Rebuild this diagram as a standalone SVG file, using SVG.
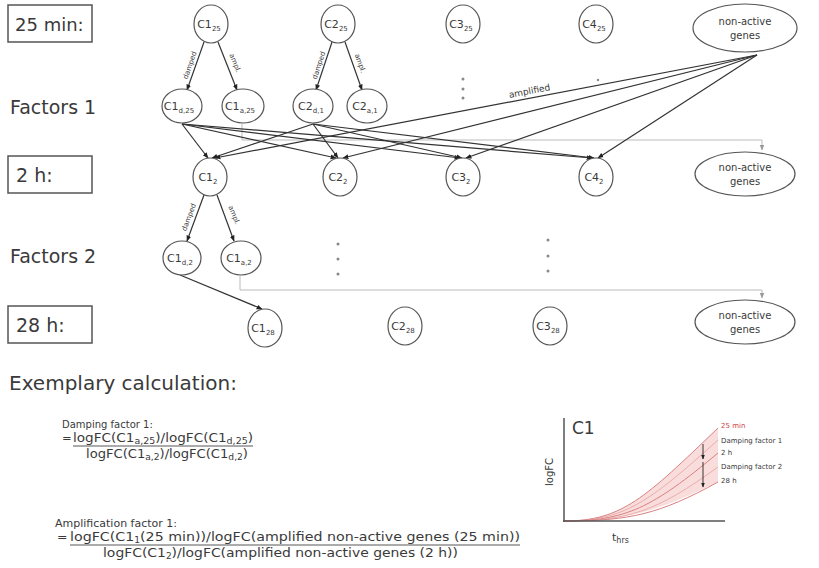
<svg xmlns="http://www.w3.org/2000/svg" width="819" height="568" viewBox="0 0 819 568">
  <defs>
    <marker id="arr" viewBox="0 0 10 10" refX="9" refY="5" markerWidth="6" markerHeight="6" orient="auto-start-reverse" markerUnits="userSpaceOnUse">
      <path d="M0,1 L10,5 L0,9 z" fill="#222"/>
    </marker>
    <marker id="arrg" viewBox="0 0 10 10" refX="9" refY="5" markerWidth="6" markerHeight="6" orient="auto" markerUnits="userSpaceOnUse">
      <path d="M0,1 L10,5 L0,9 z" fill="#999"/>
    </marker>
    <marker id="arrs" viewBox="0 0 10 10" refX="9" refY="5" markerWidth="5" markerHeight="5" orient="auto" markerUnits="userSpaceOnUse">
      <path d="M0,1 L10,5 L0,9 z" fill="#222"/>
    </marker>
  </defs>
  <style>
    text { font-family: "DejaVu Sans", Verdana, sans-serif; fill: #3a3a3a; }
    .row { font-size: 19px; }
    .box { fill: #fff; stroke: #555; stroke-width: 1.5; }
    .node ellipse { fill: #fff; stroke: #555; stroke-width: 1.2; }
    .lbl { font-size: 11px; text-anchor: middle; }
    .sub { font-size: 7px; }
    .na { font-size: 10px; text-anchor: middle; }
    .edge { stroke: #333; stroke-width: 1.2; fill: none; }
    .elbl { font-size: 7px; text-anchor: middle; }
    .grey { stroke: #bbb; stroke-width: 1; fill: none; }
    .dot { fill: #888; }
    .calc { font-size: 10px; }
    .f1 { font-size: 11.5px; }
    .f2 { font-size: 12.5px; }
    .calc2 { font-size: 11px; }
    .small { font-size: 8px; }
    .ul { stroke: #444; stroke-width: 0.9; }
  </style>

  <!-- row labels -->
  <g id="lbl-25min"><rect class="box" x="8" y="5" width="84" height="37"/><text class="row" x="15" y="31" style="font-size:18px">25 min:</text></g>
  <g id="lbl-factors1"><text class="row" x="10" y="114">Factors 1</text></g>
  <g id="lbl-2h"><rect class="box" x="8" y="156" width="84" height="37"/><text class="row" x="16" y="182">2 h:</text></g>
  <g id="lbl-factors2"><text class="row" x="10" y="263">Factors 2</text></g>
  <g id="lbl-28h"><rect class="box" x="8" y="306" width="84" height="37"/><text class="row" x="16" y="332">28 h:</text></g>

  <!-- connectors -->
  <g id="connectors">
    <!-- grey routing lines to non-active genes -->
    <path class="grey" d="M242,124 V140 H762 V150" marker-end="url(#arrg)"/>
    <path class="grey" d="M240,276 V290 H762 V298" marker-end="url(#arrg)"/>

    <!-- 25 min to factors 1 -->
    <line class="edge" x1="204" y1="42" x2="187" y2="90" marker-end="url(#arr)"/>
    <line class="edge" x1="218" y1="42" x2="237" y2="90" marker-end="url(#arr)"/>
    <line class="edge" x1="332" y1="42" x2="316" y2="90" marker-end="url(#arr)"/>
    <line class="edge" x1="345" y1="42" x2="362" y2="90" marker-end="url(#arr)"/>
    <text class="elbl" transform="translate(192,66) rotate(-71)">damped</text>
    <text class="elbl" transform="translate(233,64) rotate(68)">ampl.</text>
    <text class="elbl" transform="translate(321,66) rotate(-72)">damped</text>
    <text class="elbl" transform="translate(358,64) rotate(70)">ampl.</text>

    <!-- factors 1 to 2 h -->
    <line class="edge" x1="182" y1="124" x2="208" y2="158" marker-end="url(#arr)"/>
    <line class="edge" x1="182" y1="124" x2="336" y2="158" marker-end="url(#arr)"/>
    <line class="edge" x1="182" y1="124" x2="460" y2="158" marker-end="url(#arr)"/>
    <line class="edge" x1="182" y1="124" x2="592" y2="158" marker-end="url(#arr)"/>
    <line class="edge" x1="313" y1="124" x2="212" y2="158" marker-end="url(#arr)"/>
    <line class="edge" x1="313" y1="124" x2="338" y2="158" marker-end="url(#arr)"/>
    <line class="edge" x1="313" y1="124" x2="462" y2="158" marker-end="url(#arr)"/>
    <line class="edge" x1="313" y1="124" x2="594" y2="158" marker-end="url(#arr)"/>
    <line class="edge" x1="757" y1="55" x2="215" y2="158" marker-end="url(#arr)"/>
    <line class="edge" x1="757" y1="55" x2="343" y2="158" marker-end="url(#arr)"/>
    <line class="edge" x1="757" y1="55" x2="466" y2="158" marker-end="url(#arr)"/>
    <line class="edge" x1="757" y1="55" x2="598" y2="158" marker-end="url(#arr)"/>
    <text class="elbl" style="font-size:9px" transform="translate(530,94) rotate(-10.8)">amplified</text>

    <!-- 2 h to factors 2 -->
    <line class="edge" x1="204" y1="195" x2="187" y2="241" marker-end="url(#arr)"/>
    <line class="edge" x1="217" y1="195" x2="234" y2="241" marker-end="url(#arr)"/>
    <text class="elbl" transform="translate(191,218) rotate(-70)">damped</text>
    <text class="elbl" transform="translate(232,216) rotate(68)">ampl.</text>

    <!-- factors 2 to 28 h -->
    <line class="edge" x1="180" y1="275" x2="262" y2="309" marker-end="url(#arr)"/>
  </g>

  <!-- 25 min nodes -->
  <g id="n-c1-25" class="node"><ellipse cx="211" cy="24" rx="17" ry="19"/><text class="lbl" x="209" y="28">C1<tspan class="sub" dy="3">25</tspan></text></g>
  <g id="n-c2-25" class="node"><ellipse cx="338" cy="24" rx="17" ry="19"/><text class="lbl" x="336" y="28">C2<tspan class="sub" dy="3">25</tspan></text></g>
  <g id="n-c3-25" class="node"><ellipse cx="463" cy="24" rx="17" ry="19"/><text class="lbl" x="461" y="28">C3<tspan class="sub" dy="3">25</tspan></text></g>
  <g id="n-c4-25" class="node"><ellipse cx="596" cy="24" rx="17" ry="19"/><text class="lbl" x="594" y="28">C4<tspan class="sub" dy="3">25</tspan></text></g>
  <g id="n-na-25" class="node"><ellipse cx="745" cy="28" rx="52" ry="24"/><text class="na" x="745" y="25">non-active</text><text class="na" x="745" y="39">genes</text></g>

  <!-- factors 1 nodes -->
  <g id="n-c1-d25" class="node"><ellipse cx="182" cy="106" rx="20" ry="17"/><text class="lbl" x="179" y="110">C1<tspan class="sub" dy="3">d,25</tspan></text></g>
  <g id="n-c1-a25" class="node"><ellipse cx="243" cy="106" rx="21" ry="17"/><text class="lbl" x="240" y="110">C1<tspan class="sub" dy="3">a,25</tspan></text></g>
  <g id="n-c2-d1" class="node"><ellipse cx="313" cy="106" rx="20" ry="17"/><text class="lbl" x="311" y="110">C2<tspan class="sub" dy="3">d,1</tspan></text></g>
  <g id="n-c2-a1" class="node"><ellipse cx="367" cy="106" rx="20" ry="17"/><text class="lbl" x="365" y="110">C2<tspan class="sub" dy="3">a,1</tspan></text></g>

  <!-- vertical dots -->
  <g id="dots" class="dot">
    <circle cx="463" cy="79" r="1.5"/><circle cx="463" cy="89" r="1.5"/><circle cx="463" cy="98" r="1.5"/>
    <circle cx="598" cy="80" r="1.2"/>
    <circle cx="338" cy="244" r="1.5"/><circle cx="338" cy="259" r="1.5"/><circle cx="338" cy="274" r="1.5"/>
    <circle cx="548" cy="240" r="1.5"/><circle cx="548" cy="256" r="1.5"/><circle cx="548" cy="271" r="1.5"/>
  </g>

  <!-- 2 h nodes -->
  <g id="n-c1-2" class="node"><ellipse cx="210" cy="177" rx="17" ry="19"/><text class="lbl" x="208" y="181">C1<tspan class="sub" dy="3">2</tspan></text></g>
  <g id="n-c2-2" class="node"><ellipse cx="340" cy="177" rx="17" ry="19"/><text class="lbl" x="338" y="181">C2<tspan class="sub" dy="3">2</tspan></text></g>
  <g id="n-c3-2" class="node"><ellipse cx="463" cy="177" rx="17" ry="19"/><text class="lbl" x="461" y="181">C3<tspan class="sub" dy="3">2</tspan></text></g>
  <g id="n-c4-2" class="node"><ellipse cx="596" cy="177" rx="17" ry="19"/><text class="lbl" x="594" y="181">C4<tspan class="sub" dy="3">2</tspan></text></g>
  <g id="n-na-2" class="node"><ellipse cx="745" cy="174" rx="50" ry="22"/><text class="na" x="745" y="171">non-active</text><text class="na" x="745" y="185">genes</text></g>

  <!-- factors 2 nodes -->
  <g id="n-c1-d2" class="node"><ellipse cx="182" cy="258" rx="19" ry="17"/><text class="lbl" x="180" y="262">C1<tspan class="sub" dy="3">d,2</tspan></text></g>
  <g id="n-c1-a2" class="node"><ellipse cx="241" cy="258" rx="20" ry="17"/><text class="lbl" x="239" y="262">C1<tspan class="sub" dy="3">a,2</tspan></text></g>

  <!-- 28 h nodes -->
  <g id="n-c1-28" class="node"><ellipse cx="265" cy="328" rx="17" ry="19"/><text class="lbl" x="263" y="332">C1<tspan class="sub" dy="3">28</tspan></text></g>
  <g id="n-c2-28" class="node"><ellipse cx="405" cy="326" rx="17" ry="19"/><text class="lbl" x="403" y="330">C2<tspan class="sub" dy="3">28</tspan></text></g>
  <g id="n-c3-28" class="node"><ellipse cx="550" cy="326" rx="17" ry="19"/><text class="lbl" x="548" y="330">C3<tspan class="sub" dy="3">28</tspan></text></g>
  <g id="n-na-28" class="node"><ellipse cx="745" cy="322" rx="50" ry="22"/><text class="na" x="745" y="319">non-active</text><text class="na" x="745" y="333">genes</text></g>

  <!-- calculation text -->
  <g id="calc">
    <text x="9" y="390" style="font-size:20px">Exemplary calculation:</text>
    <text class="calc" x="62" y="428">Damping factor 1:</text>
    <text class="f1" x="62" y="442">=</text>
    <text class="f1" x="73" y="442" textLength="180" lengthAdjust="spacingAndGlyphs">logFC(C1<tspan class="small" dy="2">a,25</tspan><tspan dy="-2">)/logFC(C1</tspan><tspan class="small" dy="2">d,25</tspan><tspan dy="-2">)</tspan></text>
    <line class="ul" x1="73" y1="446" x2="253" y2="446"/>
    <text class="f1" x="86" y="458" textLength="162" lengthAdjust="spacingAndGlyphs">logFC(C1<tspan class="small" dy="2">a,2</tspan><tspan dy="-2">)/logFC(C1</tspan><tspan class="small" dy="2">d,2</tspan><tspan dy="-2">)</tspan></text>

    <text class="calc2" x="55" y="527">Amplification factor 1:</text>
    <text class="f2" x="57" y="541">=</text>
    <text class="f2" x="70" y="541" textLength="450" lengthAdjust="spacingAndGlyphs">logFC(C1<tspan class="small" dy="2">1</tspan><tspan dy="-2">(25 min))/logFC(amplified non-active genes (25 min))</tspan></text>
    <line class="ul" x1="70" y1="545" x2="520" y2="545"/>
    <text class="f2" x="103" y="557" textLength="355" lengthAdjust="spacingAndGlyphs">logFC(C1<tspan class="small" dy="2">2</tspan><tspan dy="-2">)/logFC(amplified non-active genes (2 h))</tspan></text>
  </g>

  <!-- C1 logFC sketch -->
  <g id="chart">
    <path d="M564,521 C622,521 645,498 718,428 L718,482 C660,510 628,521 564,521 z" fill="#f6cfcf" opacity="0.7"/>
    <path d="M564,521 C622,521 645,498 718,428" stroke="#d98080" stroke-width="1" fill="none"/>
    <path d="M564,521 C624,521 648,503 718,440" stroke="#e4a0a0" stroke-width="0.8" fill="none"/>
    <path d="M564,521 C626,521 652,508 718,453" stroke="#d98080" stroke-width="1" fill="none"/>
    <path d="M564,521 C628,521 656,512 718,467" stroke="#e4a0a0" stroke-width="0.8" fill="none"/>
    <path d="M564,521 C630,521 660,514 718,482" stroke="#d98080" stroke-width="1" fill="none"/>
    <line x1="703" y1="444" x2="703" y2="459" stroke="#222" stroke-width="0.9" marker-end="url(#arrs)"/>
    <line x1="703" y1="462" x2="703" y2="487" stroke="#222" stroke-width="0.9" marker-end="url(#arrs)"/>
    <line x1="564" y1="418" x2="564" y2="522" stroke="#555" stroke-width="1.5"/>
    <line x1="563" y1="521" x2="725" y2="521" stroke="#555" stroke-width="1.5"/>
    <text x="572" y="434" style="font-size:17px">C1</text>
    <text transform="translate(553,472) rotate(-90)" style="font-size:10px" text-anchor="middle">logFC</text>
    <text x="612" y="541" style="font-size:11px">t<tspan class="small" dy="2">hrs</tspan></text>
    <text x="721" y="428" style="font-size:7px;fill:#d04040">25 min</text>
    <text x="721" y="443" style="font-size:7px">Damping factor 1</text>
    <text x="721" y="455" style="font-size:7px">2 h</text>
    <text x="721" y="469" style="font-size:7px">Damping factor 2</text>
    <text x="721" y="483" style="font-size:7px">28 h</text>
  </g>
</svg>
